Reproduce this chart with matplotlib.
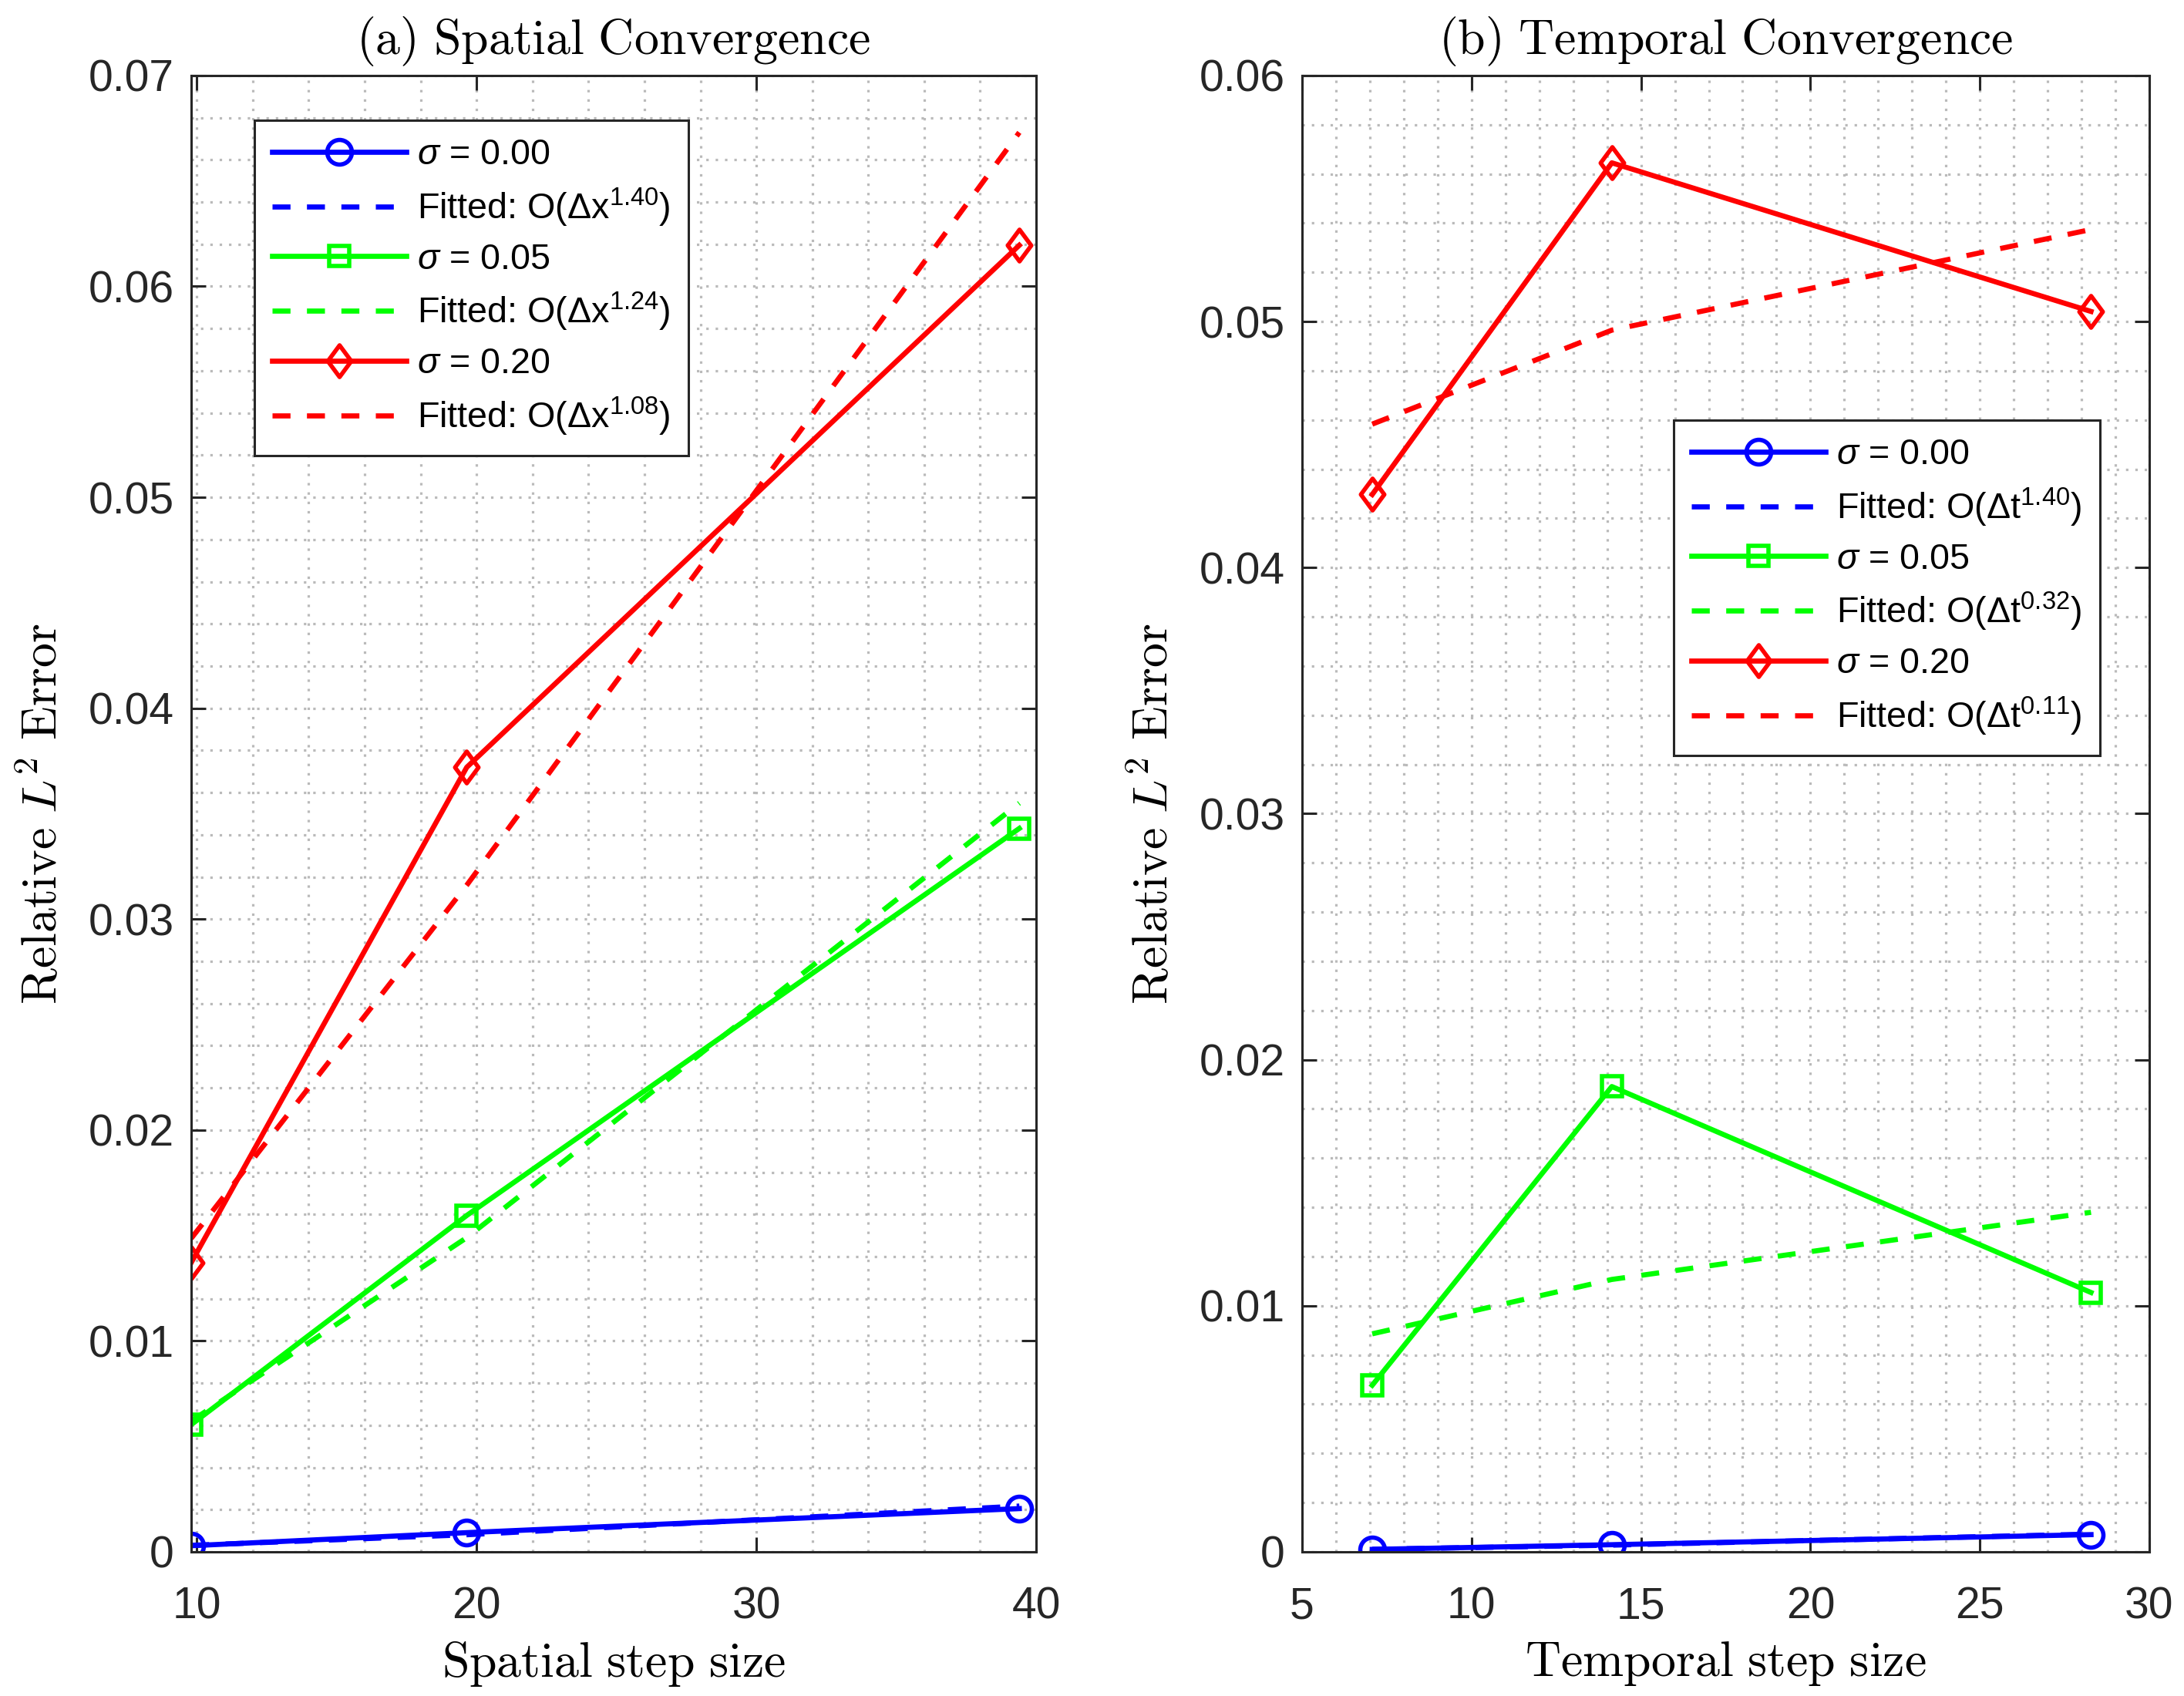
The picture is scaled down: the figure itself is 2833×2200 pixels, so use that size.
import numpy as np
import matplotlib
matplotlib.use('Agg')
import matplotlib.pyplot as plt
from matplotlib.path import Path
from matplotlib.ticker import MultipleLocator, FuncFormatter
from matplotlib.font_manager import FontProperties

plt.rcParams['font.family'] = ['Liberation Sans', 'DejaVu Sans']
plt.rcParams['mathtext.fontset'] = 'custom'
plt.rcParams['mathtext.rm'] = 'Liberation Sans'
plt.rcParams['mathtext.it'] = 'Liberation Sans:italic'
plt.rcParams['mathtext.bf'] = 'Liberation Sans:bold'

# ---- data ----
sigma_labels = ['0.00', '0.05', '0.20']

# (a) spatial
dx = [9.8, 19.65, 39.4]
err_dx_s000 = [0.00029, 0.00091, 0.00205]
err_dx_s005 = [0.00603, 0.01595, 0.0343]
err_dx_s020 = [0.01371, 0.0372, 0.06195]
fit_dx_s000 = [0.00031, 0.00081, 0.00217]
fit_dx_s005 = [0.0062, 0.0149, 0.0355]
fit_dx_s020 = [0.01486, 0.03161, 0.0673]
order_dx = ['1.40', '1.24', '1.08']

# (b) temporal
dt = [7.07, 14.14, 28.28]
err_dt_s000 = [0.0001, 0.00029, 0.0007]
err_dt_s005 = [0.00677, 0.01891, 0.01054]
err_dt_s020 = [0.04297, 0.05645, 0.05041]
fit_dt_s000 = [0.000103, 0.000272, 0.000721]
fit_dt_s005 = [0.00886, 0.01107, 0.0138]
fit_dt_s020 = [0.04583, 0.04965, 0.05374]
order_dt = ['1.40', '0.32', '0.11']

colors = ['#0000ff', '#00ff00', '#ff0000']
diamond = Path([(0, 1), (0.74, 0), (0, -1), (-0.74, 0), (0, 1)],
               [Path.MOVETO, Path.LINETO, Path.LINETO, Path.LINETO, Path.CLOSEPOLY])
markers = ['o', 's', diamond]
msizes = [11.5, 9.4, 14.8]

axcol = '#262626'
cm_title = FontProperties(family='Liberation Sans', size=23, math_fontfamily='cm')


def style_axes(ax, xmaj, xmin, ymaj, ymin):
    ax.xaxis.set_major_locator(MultipleLocator(xmaj))
    ax.xaxis.set_minor_locator(MultipleLocator(xmin))
    ax.yaxis.set_major_locator(MultipleLocator(ymaj))
    ax.yaxis.set_minor_locator(MultipleLocator(ymin))
    ax.yaxis.set_major_formatter(FuncFormatter(lambda v, p: f'{v:g}'))
    ax.xaxis.set_major_formatter(FuncFormatter(lambda v, p: f'{v:g}'))
    ax.grid(True, which='both', color='#bababa', lw=1.15, dashes=(1, 2.8))
    ax.set_axisbelow(True)
    ax.tick_params(which='major', direction='in', top=True, right=True,
                   length=7, width=1.1, color=axcol, labelsize=20.5,
                   labelcolor=axcol)
    ax.tick_params(axis='x', which='major', pad=16)
    ax.tick_params(axis='y', which='major', pad=8)
    ax.tick_params(which='minor', length=0)
    for s in ax.spines.values():
        s.set_color(axcol)
        s.set_linewidth(1.1)


def draw_panel(ax, x, errs, fits, orders, var):
    for i in range(3):
        ax.plot(x, errs[i], color=colors[i], lw=2.4, marker=markers[i],
                ms=msizes[i], mfc='none', mew=2.0,
                label=r'$\sigma$ = ' + sigma_labels[i])
        ax.plot(x, fits[i], color=colors[i], lw=2.4, dashes=(3.5, 3.2),
                label='Fitted: O(Δ' + var + '$^{' + orders[i] + '}$)')


fig = plt.figure(figsize=(2833 / 200, 2200 / 200), dpi=200)
ax1 = fig.add_axes([248 / 2833, 0.085, (1344 - 248) / 2833, 0.8705])
ax2 = fig.add_axes([1689 / 2833, 0.085, (2788 - 1689) / 2833, 0.8705])

draw_panel(ax1, dx, [err_dx_s000, err_dx_s005, err_dx_s020],
           [fit_dx_s000, fit_dx_s005, fit_dx_s020], order_dx, 'x')
draw_panel(ax2, dt, [err_dt_s000, err_dt_s005, err_dt_s020],
           [fit_dt_s000, fit_dt_s005, fit_dt_s020], order_dt, 't')

ax1.set_xlim(9.8, 40)
ax1.set_ylim(0, 0.07)
ax2.set_xlim(5, 30)
ax2.set_ylim(0, 0.06)
style_axes(ax1, 10, 2, 0.01, 0.002)
style_axes(ax2, 5, 1, 0.01, 0.002)

ax1.set_title(r'$\mathrm{(a)\ Spatial\ Convergence}$', fontproperties=cm_title, pad=10)
ax2.set_title(r'$\mathrm{(b)\ Temporal\ Convergence}$', fontproperties=cm_title, pad=10)
ax1.set_xlabel(r'$\mathrm{Spatial\ step\ size}$', fontproperties=cm_title, labelpad=5.5)
ax2.set_xlabel(r'$\mathrm{Temporal\ step\ size}$', fontproperties=cm_title, labelpad=5.5)
for ax in (ax1, ax2):
    ax.set_ylabel(r'$\mathrm{Relative}\ L^2\ \mathrm{Error}$', fontproperties=cm_title,
                  labelpad=10)

for ax, anchor in ((ax1, (0.0748, 0.9697)), (ax2, (0.4386, 0.7666))):
    leg = ax.legend(loc='upper left', bbox_to_anchor=anchor, borderaxespad=0,
                    fontsize=16.8, handlelength=3.73, handletextpad=0.3,
                    labelspacing=0.39, borderpad=0.5, numpoints=1,
                    fancybox=False, framealpha=1, edgecolor=axcol)
    leg.get_frame().set_linewidth(1.1)
    for t in leg.get_texts():
        t.set_color('black')

fig.savefig('out.png', dpi=200)
